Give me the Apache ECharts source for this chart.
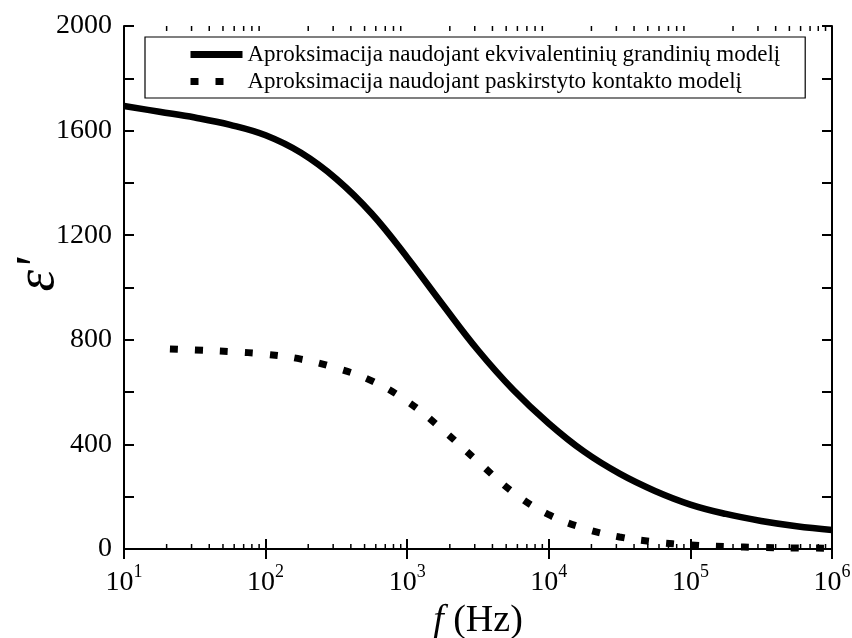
<!DOCTYPE html>
<html>
<head>
<meta charset="utf-8">
<script src="https://cdn.jsdelivr.net/npm/echarts@6/dist/echarts.min.js"></script>
<style>
  html, body { margin: 0; padding: 0; background: #fff; }
  #chart { width: 852px; height: 638px; }
</style>
</head>
<body>
<div id="chart"></div>
<script>
// Frequencies (Hz) and permittivity values for the two approximations
const freqEquivalent = [10, 17.78, 31.62, 56.23, 100, 177.8, 316.2, 562.3, 1000, 1778, 3162, 5623,
  10000, 17783, 31623, 56234, 100000, 177828, 316228, 562341, 1000000];
const epsEquivalent = [1694, 1672, 1650, 1622, 1582, 1515, 1415, 1282, 1115, 935, 760, 608,
  480, 372, 288, 222, 170, 134, 107, 87, 73];

const freqDistributed = [21.1, 31.62, 56.23, 100, 177.8, 316.2, 562.3, 1000, 1778, 3162, 5623,
  10000, 17783, 31623, 56234, 100000, 177828, 316228, 562341, 1000000];
const epsDistributed = [765, 761, 755, 745, 726, 692, 643, 565, 456, 334, 216,
  131, 79, 46, 27, 15, 9, 6, 4, 3];

const seriesNames = [
  'Aproksimacija naudojant ekvivalentinių grandinių modelį',
  'Aproksimacija naudojant paskirstyto kontakto modelį'
];

// Y axis range and tick labels
const yMin = 0, yMax = 2000, yStep = 200, yLabelStep = 400;
const xMin = 10, xMax = 1e6;

// Minor ticks of the logarithmic frequency axis (2..9 within each decade)
const minorFreqs = [];
for (let e = 1; e < 6; e++) {
  for (let k = 2; k <= 9; k++) minorFreqs.push(k * Math.pow(10, e));
}

const serif = 'Liberation Serif, Times New Roman, serif';

function pairs(xs, ys) { return xs.map((x, i) => [x, ys[i]]); }

const chart = echarts.init(document.getElementById('chart'));

const axisLineStyle = { color: '#000', width: 2 };

chart.setOption({
  animation: false,
  backgroundColor: '#fff',
  grid: { left: 124, right: 20, top: 26, bottom: 89, containLabel: false, outerBoundsMode: 'none' },
  legend: {
    data: [
      { name: seriesNames[0] },
      // legend sample shows two dashes only
      { name: seriesNames[1], lineStyle: { type: [8, 17, 8, 100] } }
    ],
    orient: 'vertical',
    left: 145,
    top: 37,
    padding: [4, 25, 3, 42],
    itemGap: 0,
    itemWidth: 52,
    itemHeight: 27,
    borderColor: '#000',
    borderWidth: 1.2,
    itemStyle: { color: 'rgba(0,0,0,0)', borderWidth: 0 },
    lineStyle: { width: 7 },
    textStyle: { fontFamily: serif, fontSize: 23, color: '#000', lineHeight: 27 }
  },
  xAxis: [{
    type: 'log', logBase: 10, min: xMin, max: xMax,
    position: 'bottom',
    axisLine: { lineStyle: axisLineStyle },
    axisTick: { inside: true, length: 10, lineStyle: { width: 2, color: '#000' } },
    splitLine: { show: false },
    axisLabel: {
      margin: 18,
      formatter: function (v) {
        const e = Math.round(Math.log10(v));
        return '{b|10}{s|' + e + '}';
      },
      rich: {
        b: { fontFamily: serif, fontSize: 28, color: '#000', lineHeight: 30, verticalAlign: 'bottom' },
        s: { fontFamily: serif, fontSize: 18, color: '#000', lineHeight: 30, verticalAlign: 'bottom', padding: [0, 0, 16, 0] }
      }
    },
    name: '{i|f}{n| (Hz)}',
    nameLocation: 'middle',
    nameGap: 51,
    nameTextStyle: {
      rich: {
        i: { fontFamily: serif, fontStyle: 'italic', fontSize: 38, color: '#000' },
        n: { fontFamily: serif, fontSize: 38, color: '#000' }
      }
    }
  }, {
    type: 'log', logBase: 10, min: xMin, max: xMax,
    position: 'top',
    axisLine: { lineStyle: axisLineStyle },
    axisTick: { inside: true, length: 10, lineStyle: { width: 2, color: '#000' } },
    axisLabel: { show: false },
    splitLine: { show: false }
  }],
  yAxis: [{
    type: 'value', min: yMin, max: yMax, interval: yStep,
    position: 'left',
    axisLine: { show: true, lineStyle: axisLineStyle },
    axisTick: { show: true, inside: true, length: 10, lineStyle: { width: 2, color: '#000' } },
    splitLine: { show: false },
    axisLabel: {
      margin: 12,
      fontFamily: serif, fontSize: 28, color: '#000',
      formatter: function (v) { return v % yLabelStep === 0 ? String(v) : ''; }
    }
  }, {
    type: 'value', min: yMin, max: yMax, interval: yStep,
    position: 'right',
    axisLine: { show: true, lineStyle: axisLineStyle },
    axisTick: { show: true, inside: true, length: 10, lineStyle: { width: 2, color: '#000' } },
    splitLine: { show: false },
    axisLabel: { show: false }
  }],
  graphic: [{
    type: 'text',
    left: 11,
    top: 258,
    rotation: Math.PI / 2,
    style: {
      text: "ε'",
      font: 'italic 55px ' + serif,
      fill: '#000'
    }
  }],
  series: [{
    name: seriesNames[0],
    type: 'line',
    data: pairs(freqEquivalent, epsEquivalent),
    smooth: 0.4,
    symbol: 'none',
    lineStyle: { color: '#000', width: 6.5 },
    itemStyle: { color: '#000' },
    z: 3
  }, {
    name: seriesNames[1],
    type: 'line',
    data: pairs(freqDistributed, epsDistributed),
    smooth: 0.4,
    symbol: 'none',
    lineStyle: { color: '#000', width: 7, type: [8, 17], cap: 'butt' },
    itemStyle: { color: '#000' },
    z: 3
  }, {
    // minor ticks on bottom and top frequency axes
    type: 'custom',
    silent: true,
    data: minorFreqs.map(f => [f]),
    renderItem: function (params, api) {
      const f = api.value(0);
      const pb = api.coord([f, yMin]);
      const pt = api.coord([f, yMax]);
      const st = { stroke: '#000', lineWidth: 1.5 };
      return {
        type: 'group',
        children: [
          { type: 'line', shape: { x1: pb[0], y1: pb[1], x2: pb[0], y2: pb[1] - 5 }, style: st },
          { type: 'line', shape: { x1: pt[0], y1: pt[1], x2: pt[0], y2: pt[1] + 5 }, style: st }
        ]
      };
    },
    clip: false,
    z: 4
  }]
});
</script>
</body>
</html>
